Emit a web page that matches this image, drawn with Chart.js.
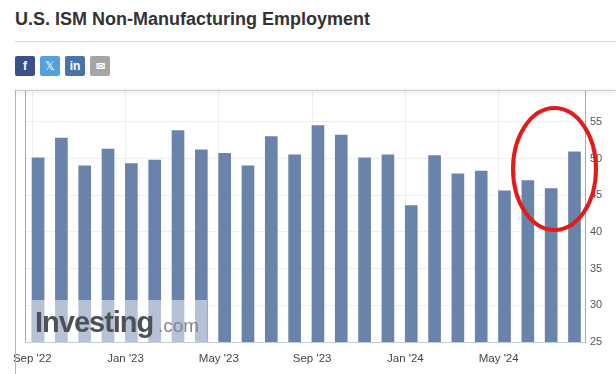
<!DOCTYPE html>
<html>
<head>
<meta charset="utf-8">
<style>
  html, body { margin: 0; padding: 0; background: #fff; overflow: hidden; }
  body { width: 616px; height: 374px; position: relative; font-family: "Liberation Sans", Arial, sans-serif; }
  h1 { position: absolute; left: 15px; top: 9px; margin: 0; font-size: 18px; line-height: 20px; font-weight: bold; color: #333; }
  .rule { position: absolute; left: 15px; right: 0; top: 41px; height: 1px; background: #d8d8d8; }
  .btn { position: absolute; top: 56px; width: 20px; height: 20px; border-radius: 2px; color: #fff; text-align: center; font-size: 12px; line-height: 20px; font-weight: bold; }
  .panel { position: absolute; left: 15px; right: 0; top: 90px; height: 1px; background: #ccc; box-shadow: 0 1px 4px rgba(0,0,0,0.25); }
  .side { position: absolute; left: 15px; top: 90px; width: 1px; height: 284px; background: #b4b4b4; }
  #wrap { position: absolute; left: 0; top: 0; width: 616px; height: 374px; }
  svg { position: absolute; left: 0; top: 0; }
</style>
</head>
<body>
<h1>U.S. ISM Non-Manufacturing Employment</h1>
<div class="rule"></div>
<div class="btn" style="left:15px;background:#3b5088">f</div>
<div class="btn" style="left:40px;background:#55a0d8;font-weight:normal">𝕏</div>
<div class="btn" style="left:65px;background:#4873a8">in</div>
<div class="btn" style="left:90px;background:#a5a5a5;font-size:11px">✉</div>
<div id="wrap"><canvas id="employmentChart" width="616" height="374"></canvas></div>
<div class="panel"></div>
<div class="side"></div>
<svg width="616" height="374"><ellipse cx="554.5" cy="169" rx="41.5" ry="61" fill="none" stroke="#e31b1b" stroke-width="4"/></svg>
<script src="https://cdn.jsdelivr.net/npm/chart.js@4"></script>
<script>
const months = ["Sep '22","Oct '22","Nov '22","Dec '22","Jan '23","Feb '23","Mar '23","Apr '23","May '23","Jun '23","Jul '23","Aug '23","Sep '23","Oct '23","Nov '23","Dec '23","Jan '24","Feb '24","Mar '24","Apr '24","May '24","Jun '24","Jul '24","Aug '24"];
const values = [50.1,52.8,49.0,51.3,49.3,49.8,53.8,51.2,50.7,49.0,53.0,50.5,54.5,53.2,50.1,50.5,43.6,50.4,47.9,48.3,45.6,47.0,45.9,50.9];
const xTickMonths = [0,4,8,12,16,20];
const yTicks = [25,30,35,40,45,50,55];

// gridlines sit a bit left of the bars, at the start of the month
const tickShift = -0.25;

// watermark is painted over the bars
const watermark = {
    id: "watermark",
    afterDatasetsDraw(chart) {
        const ctx = chart.ctx;
        ctx.save();
        ctx.fillStyle = "rgba(255,255,255,0.5)";
        ctx.fillRect(32, 300, 175, 42);
        ctx.textBaseline = "alphabetic";
        ctx.fillStyle = "#505156";
        ctx.font = "bold 29px 'Liberation Sans'";
        ctx.letterSpacing = "-1px";
        ctx.fillText("Investing", 35, 332);
        ctx.letterSpacing = "0px";
        ctx.fillStyle = "#85868a";
        ctx.font = "19px 'Liberation Sans'";
        ctx.fillText(".com", 158, 332);
        ctx.restore();
    }
};

new Chart(document.getElementById("employmentChart"), {
    type: "bar",
    data: {
        datasets: [{
            data: values.map((v, i) => ({ x: i, y: v })),
            backgroundColor: "#6a83ab",
            barThickness: 12
        }]
    },
    options: {
        responsive: false,
        animation: false,
        layout: { padding: { left: 25, top: 91 } },
        plugins: { legend: { display: false }, tooltip: { enabled: false } },
        scales: {
            x: {
                type: "linear",
                offset: false,
                min: -0.56,
                max: 23.45,
                afterBuildTicks: axis => {
                    axis.ticks = xTickMonths.map(m => ({ value: m + tickShift }));
                },
                afterFit: axis => { axis.height = 374 - 342; },
                ticks: {
                    autoSkip: false,
                    maxRotation: 0,
                    padding: 10,
                    color: "#444",
                    font: { family: "Liberation Sans", size: 11.5 },
                    callback: v => months[Math.round(v - tickShift)]
                },
                grid: { color: "#efefef", drawTicks: false, offset: false },
                border: { color: "#c0d0e0" }
            },
            y: {
                position: "right",
                min: 25,
                max: 59.2,
                afterBuildTicks: axis => {
                    axis.ticks = yTicks.map(v => ({ value: v }));
                },
                afterFit: axis => { axis.width = 616 - 585; },
                ticks: {
                    padding: 5,
                    color: "#555",
                    font: { family: "Liberation Sans", size: 11 }
                },
                grid: { color: "#efefef", drawTicks: false },
                border: { color: "#a8a8a8" }
            }
        }
    },
    plugins: [watermark, {
        id: "leftAxisLine",
        afterDraw(chart) {
            const a = chart.chartArea, ctx = chart.ctx;
            ctx.save();
            ctx.strokeStyle = "#a8a8a8";
            ctx.beginPath();
            ctx.moveTo(a.left + 0.5, a.top);
            ctx.lineTo(a.left + 0.5, a.bottom);
            ctx.stroke();
            ctx.restore();
        }
    }]
});
</script>
</body>
</html>
